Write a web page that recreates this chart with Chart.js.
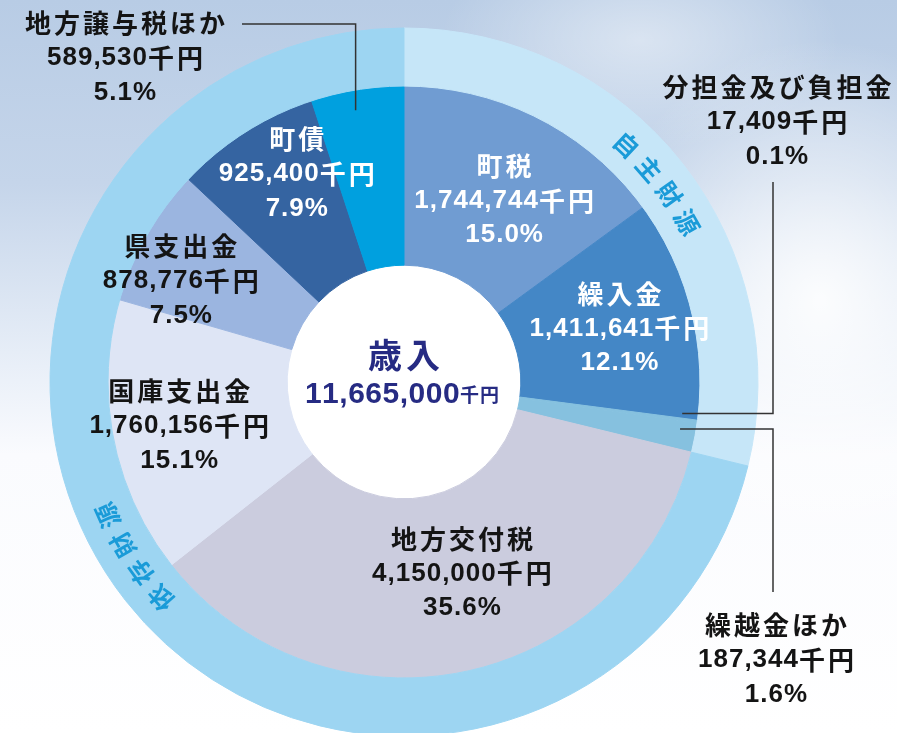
<!DOCTYPE html>
<html lang="ja">
<head>
<meta charset="utf-8">
<title>歳入</title>
<script src="https://cdn.jsdelivr.net/npm/chart.js@4.4.1/dist/chart.umd.min.js"></script>
<style>
  html, body { margin: 0; padding: 0; }
  body {
    width: 897px; height: 733px; overflow: hidden;
    background:
      radial-gradient(ellipse 230px 260px at 820px 300px, rgba(255,255,255,0.9), rgba(255,255,255,0) 100%),
      radial-gradient(ellipse 200px 110px at 640px 40px, rgba(255,255,255,0.45), rgba(255,255,255,0) 100%),
      linear-gradient(to bottom, #b8cce5 0%, #c5d5ea 25%, #e6edf7 48%, #fafbfe 62%, #ffffff 100%);
  }
  #wrap { position: relative; width: 897px; height: 733px; overflow: hidden; }
  canvas { position: absolute; left: 0; top: 0; }
</style>
</head>
<body>
<div id="wrap"><canvas id="revenue" width="897" height="764"></canvas></div>
<script>
// 歳入の内訳（千円）
const categories = ["町税", "繰入金", "分担金及び負担金", "繰越金ほか", "地方交付税",
  "国庫支出金", "県支出金", "町債", "地方譲与税ほか"];
const amounts = [1744744, 1411641, 17409, 187344, 4150000, 1760156, 878776, 925400, 589530];
// 財源区分: 先頭4項目が自主財源、残りが依存財源
const groupNames = ["自主財源", "依存財源"];
const groupSizes = [4, 5];
const totalTitle = "歳入";

const sliceColors = ["#709cd2", "#4487c6", "#86c1df", "#86c1df", "#cbccde",
  "#dee5f5", "#9bb5e0", "#3564a1", "#00a0df"];
const groupColors = ["#c6e6f8", "#9dd5f2"];
const whiteText = [true, true, false, false, false, false, false, true, false];

const total = amounts.reduce((a, b) => a + b, 0);
const groupAmounts = [];
let k0 = 0;
groupSizes.forEach(n => {
  groupAmounts.push(amounts.slice(k0, k0 + n).reduce((a, b) => a + b, 0));
  k0 += n;
});

const LATIN_FONT = '"Liberation Sans", Arial, sans-serif';
const CJK_FONT = '"Noto Sans CJK JP", sans-serif';

function fmt(n) { return n.toLocaleString("en-US"); }
function pct(n) { return (n / total * 100).toFixed(1) + "%"; }
function rad(d) { return d * Math.PI / 180; }

// draw one line mixing latin digits and kanji, centred on cx
function drawLine(ctx, text, cx, cy, o) {
  const glyphs = [];
  let width = 0;
  for (const ch of text) {
    const cjk = ch.charCodeAt(0) > 0x2e80;
    const font = "bold " + (cjk ? o.cjkSize : o.latinSize) + "px " + (cjk ? CJK_FONT : LATIN_FONT);
    ctx.font = font;
    const w = ctx.measureText(ch).width;
    const gap = cjk ? o.cjkGap : o.latinGap;
    glyphs.push({ ch, font, w, gap });
    width += w + gap;
  }
  if (glyphs.length) width -= glyphs[glyphs.length - 1].gap;
  let x = cx - width / 2;
  ctx.fillStyle = o.color;
  ctx.textAlign = "left";
  ctx.textBaseline = "middle";
  glyphs.forEach(g => {
    ctx.font = g.font;
    ctx.fillText(g.ch, x, cy);
    x += g.w + g.gap;
  });
}

function drawBlock(ctx, i, cx, cy, color) {
  const o = { latinSize: 26, cjkSize: 26, latinGap: 1, cjkGap: 3, color: color };
  const lines = [categories[i], fmt(amounts[i]) + "千円", pct(amounts[i])];
  lines.forEach((t, j) => drawLine(ctx, t, cx, cy + (j - 1) * 34.5, o));
}

function midAngle(arc) { return (arc.startAngle + arc.endAngle) / 2; }
function polar(arc, r, a) { return { x: arc.x + r * Math.cos(a), y: arc.y + r * Math.sin(a) }; }

const holePlugin = {
  id: "hole",
  beforeDatasetsDraw(chart) {
    const arc = chart.getDatasetMeta(1).data[0];
    const ctx = chart.ctx;
    ctx.save();
    ctx.fillStyle = "#ffffff";
    ctx.beginPath();
    ctx.arc(arc.x, arc.y, arc.innerRadius, 0, Math.PI * 2);
    ctx.fill();
    ctx.restore();
  }
};

// label placement inside slices: radius and angle shift (deg)
const inside = { 0: [207, 2], 1: [222, 0.4], 4: [200, -4.6], 5: [229, 0], 6: [245, -5.3], 7: [234, 5.2] };

const labelPlugin = {
  id: "sliceLabels",
  afterDatasetsDraw(chart) {
    const ctx = chart.ctx;
    const arcs = chart.getDatasetMeta(1).data;
    const rings = chart.getDatasetMeta(0).data;
    const cx = arcs[0].x, cy = arcs[0].y;
    ctx.save();

    Object.keys(inside).forEach(key => {
      const i = +key;
      const [r, da] = inside[i];
      const p = polar(arcs[i], r, midAngle(arcs[i]) + rad(da));
      drawBlock(ctx, i, p.x, p.y, whiteText[i] ? "#ffffff" : "#141414");
    });

    // leader lines for small slices
    ctx.strokeStyle = "#333333";
    ctx.lineWidth = 1.5;
    let p = polar(arcs[8], 276, midAngle(arcs[8]) + rad(-1));
    ctx.beginPath();
    ctx.moveTo(p.x, p.y); ctx.lineTo(p.x, cy - 358); ctx.lineTo(cx - 162, cy - 358);
    ctx.stroke();
    drawBlock(ctx, 8, cx - 279, cy - 324, "#141414");

    p = polar(arcs[2], 280, midAngle(arcs[2]) + rad(-1.2));
    ctx.beginPath();
    ctx.moveTo(p.x, p.y); ctx.lineTo(cx + 369, p.y); ctx.lineTo(cx + 369, cy - 200);
    ctx.stroke();
    drawBlock(ctx, 2, cx + 373, cy - 260, "#141414");

    p = polar(arcs[3], 280, midAngle(arcs[3]) + rad(-1.2));
    ctx.beginPath();
    ctx.moveTo(p.x, p.y); ctx.lineTo(cx + 369, p.y); ctx.lineTo(cx + 369, cy + 210);
    ctx.stroke();
    drawBlock(ctx, 3, cx + 372, cy + 278, "#141414");

    // centre title
    drawLine(ctx, totalTitle, cx, cy - 27, { latinSize: 34, cjkSize: 34, latinGap: 0, cjkGap: 4, color: "#262b83" });
    const o = { latinSize: 30, cjkSize: 19, latinGap: 0.5, cjkGap: 1, color: "#262b83" };
    drawLine(ctx, fmt(total) + "千円", cx - 2, cy + 13, o);

    // group names along the outer ring
    const shifts = [0, 5.2];
    ctx.fillStyle = "#1a9bd8";
    ctx.font = "bold 25px " + CJK_FONT;
    ctx.textAlign = "center";
    ctx.textBaseline = "middle";
    rings.forEach((ring, g) => {
      const r = (ring.innerRadius + ring.outerRadius) / 2;
      const centerDeg = midAngle(ring) * 180 / Math.PI + 90 + shifts[g];
      const name = groupNames[g];
      for (let j = 0; j < name.length; j++) {
        const deg = centerDeg + (j - (name.length - 1) / 2) * 5.8;
        ctx.save();
        ctx.translate(cx, cy);
        ctx.rotate(rad(deg));
        ctx.fillText(name[j], 0, -r);
        ctx.restore();
      }
    });
    ctx.restore();
  }
};

const config = {
  type: "doughnut",
  data: {
    labels: categories,
    datasets: [
      {
        label: "財源区分",
        data: groupAmounts,
        backgroundColor: groupColors,
        borderColor: groupColors,
        borderWidth: 1,
        weight: 58,
      },
      {
        label: totalTitle,
        data: amounts,
        backgroundColor: sliceColors,
        borderColor: sliceColors,
        borderWidth: 1,
        weight: 179,
      },
    ],
  },
  options: {
    responsive: false,
    animation: false,
    radius: 354,
    cutout: "33%",
    layout: { padding: { left: 0, right: 89, top: 0, bottom: 0 } },
    plugins: {
      legend: { display: false },
      tooltip: { enabled: false },
    },
  },
  plugins: [holePlugin, labelPlugin],
};

new Chart(document.getElementById("revenue"), config);
</script>
</body>
</html>
